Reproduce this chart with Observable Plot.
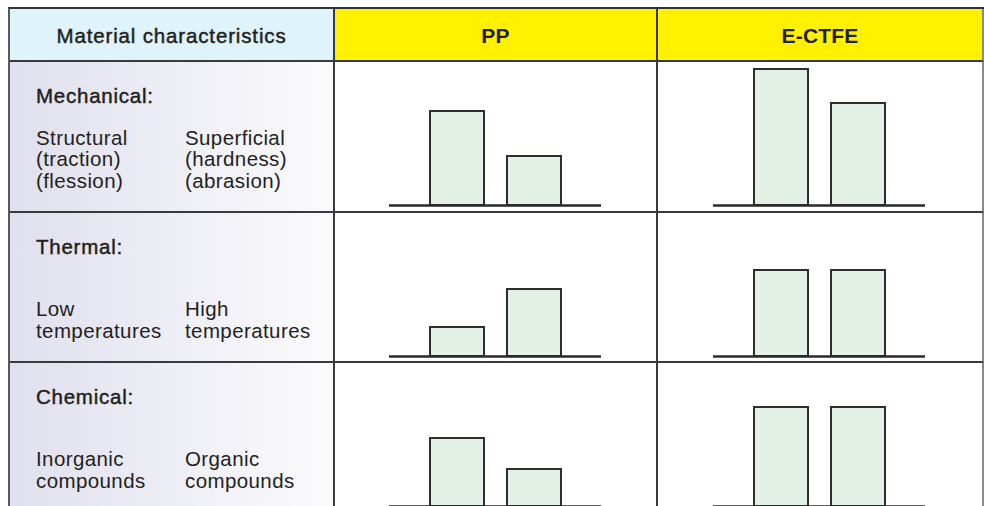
<!DOCTYPE html>
<html>
<head>
<meta charset="utf-8">
<script src="https://cdn.jsdelivr.net/npm/d3@7"></script>
<script src="https://cdn.jsdelivr.net/npm/@observablehq/plot@0.6"></script>
<style>
  html, body { margin: 0; padding: 0; background: #fff; overflow: hidden; width: 984px; height: 506px; }
  .grid {
    position: absolute; left: 8px; top: 7px;
    display: grid;
    grid-template-columns: 325px 323px 326px;
    grid-template-rows: 53px 151px 150px 150px;
    border-left: 2px solid #5a5a5a;
    border-top: 2px solid #333;
    font-family: "Liberation Sans", Arial, sans-serif;
    color: #231f20;
  }
  .cell { box-sizing: border-box; border-right: 2px solid #3a3a3a; border-bottom: 2px solid #3a3a3a; position: relative; overflow: hidden; }
  .cell.last { border-right-color: #8a8a8a; }
  .head { display: flex; align-items: center; justify-content: center; padding-top: 3px; }
  .head.left { background: #dff3fa; font-size: 20.5px; letter-spacing: 0.85px; -webkit-text-stroke: 0.45px #231f20; }
  .head.mat { background: #fff100; font-size: 21px; font-weight: bold; letter-spacing: 0.2px; }
  .label { background: linear-gradient(to right, #e0e0ee, #fbfbfd); }
  .title { position: absolute; left: 26px; top: 22px; font-size: 20.5px; line-height: 24px; letter-spacing: 0.75px; -webkit-text-stroke: 0.45px #231f20; }
  .props { position: absolute; left: 26px; bottom: 20px; display: flex; }
  .prop { font-size: 20.5px; line-height: 21.5px; letter-spacing: 0.4px; white-space: pre; }
  .prop:first-child { width: 149px; }
  .cell svg { display: block; background: transparent; }
</style>
</head>
<body>
<div class="grid" id="grid"></div>
<script>
// ---- data ----
const headerLabel = "Material characteristics";
const materials = ["PP", "E-CTFE"];
const characteristics = ["Mechanical:", "Thermal:", "Chemical:"];
const mechanicalProps = ["Structural\n(traction)\n(flession)", "Superficial\n(hardness)\n(abrasion)"];
const thermalProps = ["Low\ntemperatures", "High\ntemperatures"];
const chemicalProps = ["Inorganic\ncompounds", "Organic\ncompounds"];
// bar values (relative rating)
const ppValues = [[94, 49], [29, 67], [68, 37]];
const ectfeValues = [[136, 102], [86, 86], [99, 99]];

const propsByRow = [mechanicalProps, thermalProps, chemicalProps];
const valuesByMaterial = [ppValues, ectfeValues];

const grid = document.getElementById("grid");
const colWidths = [325, 323, 326];

function cell(cls) {
  const d = document.createElement("div");
  d.className = "cell " + cls;
  grid.appendChild(d);
  return d;
}

// header row
const h0 = cell("head left"); h0.textContent = headerLabel;
materials.forEach((m, i) => {
  const h = cell("head mat" + (i === materials.length - 1 ? " last" : ""));
  h.textContent = m;
});

// body rows
characteristics.forEach((c, r) => {
  const lab = cell("label");
  const t = document.createElement("div"); t.className = "title"; t.textContent = c; lab.appendChild(t);
  const p = document.createElement("div"); p.className = "props";
  propsByRow[r].forEach(txt => {
    const s = document.createElement("div"); s.className = "prop"; s.textContent = txt; p.appendChild(s);
  });
  lab.appendChild(p);

  materials.forEach((m, mi) => {
    const last = mi === materials.length - 1;
    const cc = cell(last ? "last" : "");
    const w = colWidths[mi + 1] - 2;
    const data = propsByRow[r].map((pr, k) => ({prop: pr.split("\n")[0], v: valuesByMaterial[mi][r][k]}));
    const ml = Math.round((w - 212) / 2) - 1;
    const svg = Plot.plot({
      width: w,
      height: 148,
      marginLeft: ml,
      marginRight: w - 212 - ml,
      marginTop: 0,
      marginBottom: 5,
      style: {background: "transparent"},
      x: {type: "band", domain: data.map(d => d.prop), paddingInner: 0.3, paddingOuter: 0.52, axis: null},
      y: {domain: [0, 143], axis: null},
      marks: [
        Plot.barY(data, {x: "prop", y: "v", fill: "#e3f0e6", stroke: "#2e2e2e", strokeWidth: 2}),
        Plot.ruleY([0], {stroke: "#2a2a2a", strokeWidth: 2.5})
      ]
    });
    cc.appendChild(svg);
  });
});
</script>
</body>
</html>
